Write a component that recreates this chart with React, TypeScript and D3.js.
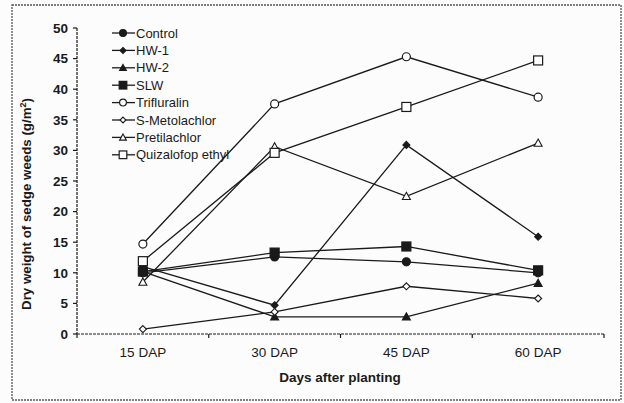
import React from 'react';
import * as d3 from 'd3';

const days = ['15 DAP', '30 DAP', '45 DAP', '60 DAP'];
const yTicks = [0, 5, 10, 15, 20, 25, 30, 35, 40, 45, 50];

const control = [10.0, 12.6, 11.8, 10.0];
const hw1 = [11.0, 4.7, 30.9, 15.9];
const hw2 = [10.2, 2.8, 2.8, 8.3];
const slw = [10.2, 13.3, 14.3, 10.4];
const trifluralin = [14.7, 37.6, 45.3, 38.7];
const sMetolachlor = [0.8, 3.6, 7.8, 5.8];
const pretilachlor = [8.5, 30.6, 22.5, 31.2];
const quizalofop = [11.9, 29.6, 37.1, 44.7];

type Marker = 'circle' | 'diamond' | 'triangle' | 'square';
const series: { name: string; values: number[]; marker: Marker; filled: boolean; size: number }[] = [
  { name: 'Control', values: control, marker: 'circle', filled: true, size: 4 },
  { name: 'HW-1', values: hw1, marker: 'diamond', filled: true, size: 3.5 },
  { name: 'HW-2', values: hw2, marker: 'triangle', filled: true, size: 4 },
  { name: 'SLW', values: slw, marker: 'square', filled: true, size: 4.5 },
  { name: 'Trifluralin', values: trifluralin, marker: 'circle', filled: false, size: 4 },
  { name: 'S-Metolachlor', values: sMetolachlor, marker: 'diamond', filled: false, size: 3.5 },
  { name: 'Pretilachlor', values: pretilachlor, marker: 'triangle', filled: false, size: 4 },
  { name: 'Quizalofop ethyl', values: quizalofop, marker: 'square', filled: false, size: 4.5 },
];

const W = 624;
const H = 403;
const left = 77;
const right = 604;
const top = 28;
const bottom = 334;
const ink = '#1a1a1a';
const font = 'Liberation Sans, Arial, sans-serif';

const Mark = ({ type, x, y, filled, s }: { type: Marker; x: number; y: number; filled: boolean; s: number }) => {
  const fill = filled ? ink : '#fff';
  if (type === 'circle') return <circle cx={x} cy={y} r={s} fill={fill} stroke={ink} strokeWidth={1.2} />;
  if (type === 'square')
    return <rect x={x - s} y={y - s} width={s * 2} height={s * 2} fill={fill} stroke={ink} strokeWidth={1.2} />;
  if (type === 'diamond')
    return (
      <path d={`M${x},${y - s}L${x + s},${y}L${x},${y + s}L${x - s},${y}Z`} fill={fill} stroke={ink} strokeWidth={1.1} />
    );
  return (
    <path d={`M${x},${y - s}L${x + s},${y + s * 0.8}L${x - s},${y + s * 0.8}Z`} fill={fill} stroke={ink} strokeWidth={1.1} />
  );
};

export default function App() {
  const x = d3.scaleBand<string>().domain(days).range([left, right]).padding(0);
  const y = d3.scaleLinear().domain([0, 50]).range([bottom, top]);
  const cx = (d: string) => (x(d) ?? 0) + x.bandwidth() / 2;
  const line = d3
    .line<number>()
    .x((_, i) => cx(days[i]))
    .y((v) => y(v));

  const legendX = 123;
  const legendY = 33;
  const legendStep = 17.4;

  return (
    <svg width={W} height={H} style={{ position: 'absolute', left: 0, top: 0, background: '#fcfcfc' }} fontFamily={font}>
      <rect x={12} y={5} width={609} height={395} fill="none" stroke="#555" strokeWidth={1.3} strokeDasharray="2,1" />

      {/* y axis */}
      <line x1={left} x2={left} y1={top} y2={bottom} stroke={ink} strokeWidth={1.2} strokeDasharray="3,1" />
      {yTicks.map((t) => (
        <g key={t}>
          <line x1={left - 4} x2={left} y1={y(t)} y2={y(t)} stroke={ink} strokeWidth={1.2} />
          <text x={left - 9} y={y(t)} dy="0.35em" textAnchor="end" fontSize={13.5} fontWeight="bold" fill={ink}>
            {t}
          </text>
        </g>
      ))}

      {/* x axis */}
      <line x1={left} x2={right} y1={bottom} y2={bottom} stroke={ink} strokeWidth={1.2} strokeDasharray="3,1" />
      {days.map((d, i) => (
        <g key={d}>
          <line
            x1={(x(d) ?? 0) + x.bandwidth()}
            x2={(x(d) ?? 0) + x.bandwidth()}
            y1={bottom}
            y2={bottom + 4}
            stroke={ink}
            strokeWidth={1.2}
          />
          {i === 0 && <line x1={left} x2={left} y1={bottom} y2={bottom + 4} stroke={ink} strokeWidth={1.2} />}
          <text x={cx(d)} y={bottom + 23} textAnchor="middle" fontSize={13.5} fill={ink}>
            {d}
          </text>
        </g>
      ))}

      <text x={340} y={382} textAnchor="middle" fontSize={13.5} fontWeight="bold" fill={ink}>
        Days after planting
      </text>
      <text
        transform={`translate(31,204) rotate(-90)`}
        textAnchor="middle"
        fontSize={13.3}
        fontWeight="bold"
        fill={ink}
      >
        Dry weight of sedge weeds (g/m<tspan dy="-5" fontSize={9}>2</tspan>
        <tspan dy="5">)</tspan>
      </text>

      {/* series */}
      {series.map((s) => (
        <g key={s.name}>
          <path d={line(s.values) ?? ''} fill="none" stroke={ink} strokeWidth={1.3} />
          {s.values.map((v, i) => (
            <Mark key={i} type={s.marker} x={cx(days[i])} y={y(v)} filled={s.filled} s={s.size} />
          ))}
        </g>
      ))}

      {/* legend */}
      {series.map((s, i) => {
        const ly = legendY + i * legendStep;
        return (
          <g key={s.name}>
            <line x1={legendX - 11} x2={legendX + 12} y1={ly} y2={ly} stroke={ink} strokeWidth={1.3} />
            <Mark type={s.marker} x={legendX} y={ly} filled={s.filled} s={s.size * 0.85} />
            <text x={legendX + 13} y={ly} dy="0.35em" fontSize={13} fill={ink}>
              {s.name}
            </text>
          </g>
        );
      })}
    </svg>
  );
}
